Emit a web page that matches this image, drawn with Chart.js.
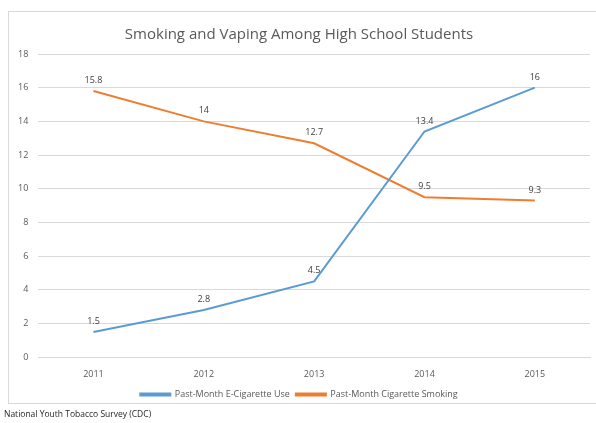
<!DOCTYPE html>
<html>
<head>
<meta charset="utf-8">
<script src="https://cdn.jsdelivr.net/npm/chart.js@4.4.0/dist/chart.umd.min.js"></script>
<style>
  html, body { margin: 0; padding: 0; background: #fff; }
  #wrap { width: 596px; height: 423px; position: relative; }
</style>
</head>
<body>
<div id="wrap"><canvas id="c" width="596" height="423"></canvas></div>
<script>
// data
var years = ['2011', '2012', '2013', '2014', '2015'];
var eCigValues = [1.5, 2.8, 4.5, 13.4, 16];
var cigValues = [15.8, 14, 12.7, 9.5, 9.3];
var yTicks = [0, 2, 4, 6, 8, 10, 12, 14, 16, 18];

var fontFam = "'Open Sans', 'Liberation Sans', sans-serif";

// frame, point labels, source note
var extras = {
  id: 'extras',
  beforeDraw: function(chart) {
    var ctx = chart.ctx;
    ctx.save();
    ctx.fillStyle = '#fff';
    ctx.fillRect(0, 0, chart.width, chart.height);
    ctx.strokeStyle = '#d9d9d9';
    ctx.lineWidth = 1;
    ctx.strokeRect(8.5, 11.5, 620, 392);
    ctx.restore();
  },
  afterDatasetsDraw: function(chart) {
    var ctx = chart.ctx;
    ctx.save();
    ctx.font = '9px ' + fontFam;
    ctx.fillStyle = '#404040';
    ctx.textAlign = 'center';
    ctx.textBaseline = 'bottom';
    chart.data.datasets.forEach(function(ds, i) {
      chart.getDatasetMeta(i).data.forEach(function(pt, j) {
        ctx.fillText(String(ds.data[j]), pt.x, pt.y - 6);
      });
    });
    ctx.font = '8.5px ' + fontFam;
    ctx.fillStyle = '#262626';
    ctx.textAlign = 'left';
    ctx.textBaseline = 'middle';
    ctx.fillText('National Youth Tobacco Survey (CDC)', 4, 415);
    ctx.restore();
  }
};

var ctx = document.getElementById('c').getContext('2d');
var myLineChart = new Chart(ctx, {
  type: 'line',
  data: {
    labels: years,
    datasets: [
      {
        label: 'Past-Month E-Cigarette Use',
        data: eCigValues,
        borderColor: '#5b9bd5',
        backgroundColor: '#5b9bd5',
        borderWidth: 2,
        pointRadius: 0,
        tension: 0
      },
      {
        label: 'Past-Month Cigarette Smoking',
        data: cigValues,
        borderColor: '#ed7d31',
        backgroundColor: '#ed7d31',
        borderWidth: 2,
        pointRadius: 0,
        tension: 0
      }
    ]
  },
  options: {
    responsive: false,
    animation: false,
    layout: { padding: { top: 26, left: 8, right: 6, bottom: 14 } },
    plugins: {
      title: {
        display: true,
        text: 'Smoking and Vaping Among High School Students',
        color: '#595959',
        font: { family: fontFam, size: 15, weight: 'normal' },
        padding: { top: 0, bottom: 10 }
      },
      legend: {
        position: 'bottom',
        labels: {
          color: '#595959',
          font: { family: fontFam, size: 9 },
          boxWidth: 30,
          boxHeight: 2,
          padding: 6
        }
      },
      tooltip: { enabled: false }
    },
    scales: {
      x: {
        offset: true,
        grid: { display: false },
        border: { color: '#d9d9d9' },
        ticks: { color: '#595959', font: { family: fontFam, size: 9 }, padding: 4 }
      },
      y: {
        min: 0,
        max: 18,
        afterBuildTicks: function(axis) {
          axis.ticks = yTicks.map(function(v) { return { value: v }; });
        },
        grid: { color: '#d9d9d9', drawTicks: false },
        border: { display: false },
        ticks: { color: '#595959', font: { family: fontFam, size: 9 }, padding: 10 }
      }
    }
  },
  plugins: [extras]
});
</script>
</body>
</html>
